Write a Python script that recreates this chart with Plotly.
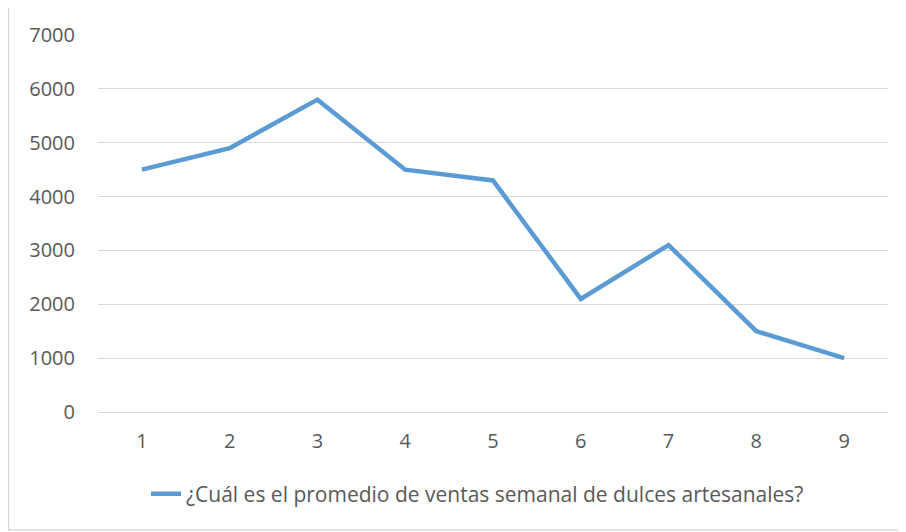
import plotly.graph_objects as go

categories = [1, 2, 3, 4, 5, 6, 7, 8, 9]
values = [4500, 4900, 5800, 4500, 4300, 2100, 3100, 1500, 1000]
series_name = "¿Cuál es el promedio de ventas semanal de dulces artesanales?"
y_ticks = [0, 1000, 2000, 3000, 4000, 5000, 6000, 7000]

font_family = "Open Sans"
text_color = "#595959"

fig = go.Figure()
fig.add_trace(go.Scatter(
    x=categories, y=values, mode="lines", name=series_name,
    line=dict(color="#5B9BD5", width=4.5, shape="linear"),
))

OFF = 8  # page body margin offset
W, H = 906, 532
L, T = 98 - OFF, 35 - OFF
R = W - (888 - OFF)
B = H - (412 - OFF)
pw, ph = W - L - R, H - T - B

def px_to_paper_x(px):
    return (px - OFF - L) / pw

def px_to_paper_y(py):
    return (H - B - (py - OFF)) / ph

fig.update_layout(
    width=W, height=H,
    margin=dict(l=L, r=R, t=T, b=B),
    paper_bgcolor="white", plot_bgcolor="white",
    font=dict(family=font_family, color=text_color, size=20),
    showlegend=True,
    legend=dict(orientation="h", x=px_to_paper_x(146), xanchor="left",
                y=px_to_paper_y(494), yanchor="middle",
                font=dict(size=21, color=text_color, family=font_family),
                bgcolor="rgba(0,0,0,0)"),
    xaxis=dict(range=[0.5, 9.5], tickmode="array", tickvals=categories,
               ticktext=[str(c) for c in categories], showgrid=False,
               zeroline=False, showline=False, ticks="",
               ticklabelstandoff=15, tickfont=dict(size=20, color=text_color)),
    yaxis=dict(range=[0, 7000], tickmode="array", tickvals=y_ticks,
               showgrid=True, gridcolor="#D9D9D9", gridwidth=1.3,
               zeroline=True, zerolinecolor="#D9D9D9", zerolinewidth=1.3,
               showline=False, ticks="", ticklabelstandoff=22,
               tickfont=dict(size=20, color=text_color)),
    shapes=[dict(type="rect", xref="paper", yref="paper",
                 x0=px_to_paper_x(8.5), x1=px_to_paper_x(904.5),
                 y0=px_to_paper_y(530), y1=px_to_paper_y(5.5),
                 line=dict(color="#D9D9D9", width=1.3), layer="below")],
)

fig.write_html("out.html")
